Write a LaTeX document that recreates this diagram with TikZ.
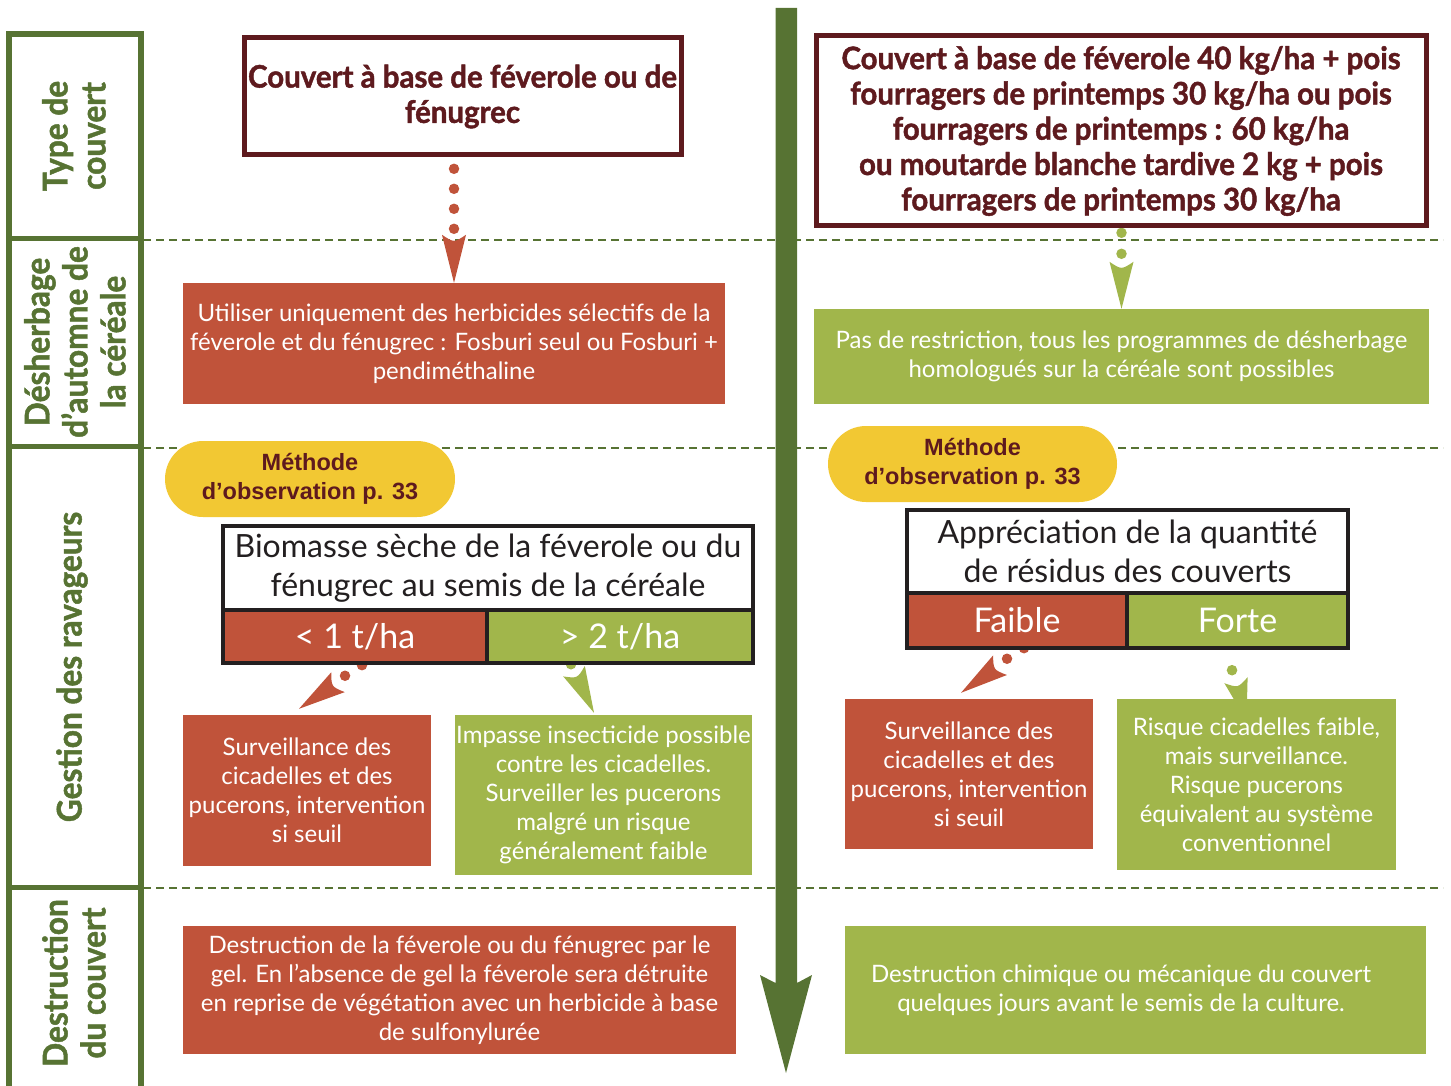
\documentclass[tikz,border=0pt]{standalone}
\usepackage{fontspec}
\usetikzlibrary{calc}
\newfontfamily\bodyf{Lato}
\newfontfamily\headf[FakeStretch=0.95, BoldFeatures={FakeBold=1.4}]{Lato}
\newfontfamily\labelf[FakeStretch=0.93, BoldFeatures={FakeBold=1.4}]{Lato}
\newfontfamily\methf{Liberation Sans}
\definecolor{redc}{HTML}{C0533A}
\definecolor{greenc}{HTML}{A1B64B}
\definecolor{darkgreenc}{HTML}{577333}
\definecolor{maroonc}{HTML}{5E1A1E}
\definecolor{yellowc}{HTML}{F2C833}
\definecolor{inkc}{HTML}{231F20}
\pgfdeclarelayer{bg}
\pgfdeclarelayer{mid}
\pgfsetlayers{bg,mid,main}

% arrowhead with a concave back: #1 colour, #2 back centre, #3 tip
\newcommand\notchhead[3]{%
  \fill[#1] ($(#2)!12pt!90:(#3)$) .. controls ($(#2)!8pt!(#3)$) .. ($(#2)!12pt!-90:(#3)$) -- (#3) -- cycle;}

\begin{document}
\begin{tikzpicture}[x=1pt,y=-1pt,
  box/.style={inner sep=0pt, align=center, text=white,
    font=\bodyf\fontsize{24}{29}\selectfont},
  redbox/.style={box, fill=redc},
  greenbox/.style={box, fill=greenc},
  titlebox/.style={draw=maroonc, line width=5pt, fill=white, inner sep=0pt,
    align=center, text=maroonc, font=\headf\bfseries\fontsize{31}{35.3}\selectfont},
  pill/.style={fill=yellowc, rounded corners=38pt, inner sep=0pt, align=center,
    text=maroonc, font=\methf\bfseries\fontsize{23.5}{29}\selectfont},
  headcell/.style={fill=white, inner sep=0pt, align=center, text=inkc,
    font=\bodyf\fontsize{32}{39}\selectfont},
  valcell/.style={inner sep=0pt, text=white, font=\bodyf\fontsize{34}{38}\selectfont},
  tableline/.style={draw=inkc, line width=4pt},
  sidelabel/.style={rotate=90, align=center, text=darkgreenc, inner sep=0pt,
    font=\labelf\bfseries\fontsize{34}{38}\selectfont},
  rowsep/.style={draw=darkgreenc, line width=2.5pt, dash pattern=on 8pt off 5pt},
  dottrail/.style={line width=10.5pt, line cap=round, dash pattern=on 0pt off #1},
]
\useasboundingbox (0,0) rectangle (1451,1086);

% ---- row labels frame
\draw[darkgreenc, line width=6pt] (9,1100) -- (9,34.5) -- (140.5,34.5) -- (140.5,1100);
\foreach \yy in {239,446,887}
  \draw[darkgreenc, line width=5pt] (9,\yy) -- (140.5,\yy);
\node[sidelabel] (labType) at (74,136) {Type de\\couvert};
\node[sidelabel] (labDesh) at (75,342) {Désherbage\\d’automne de\\la céréale};
\node[sidelabel] (labRav)  at (72,667) {Gestion des ravageurs};
\node[sidelabel] (labDest) at (74,983) {Destruction\\du couvert};

% ---- row separators
\begin{pgfonlayer}{bg}
  \foreach \yy in {240,448,888}
    \draw[rowsep] (143,\yy) -- (1443,\yy);
\end{pgfonlayer}

% ---- time axis
\fill[darkgreenc] (775.5,8) -- (797,8) -- (797,983) -- (812,975) -- (786,1073)
  -- (760,975) -- (775.5,983) -- cycle;

% ---- cover types
\node[titlebox, minimum width=437pt, minimum height=117pt] (titleL) at (462.5,96.5)
  {Couvert à base de féverole ou de\\fénugrec};
\node[titlebox, minimum width=610pt, minimum height=190pt] (titleR) at (1121,131)
  {Couvert à base de féverole 40 kg/ha + pois\\fourragers de printemps 30 kg/ha ou pois\\fourragers de printemps : 60 kg/ha\\ou moutarde blanche tardive 2 kg + pois\\fourragers de printemps 30 kg/ha};

% ---- autumn weeding
\node[redbox, minimum width=542pt, minimum height=121pt] (herbL) at (454,343.5)
  {Utiliser uniquement des herbicides sélectifs de la\\féverole et du fénugrec : Fosburi seul ou Fosburi +\\pendiméthaline};
\node[greenbox, minimum width=615pt, minimum height=95pt] (herbR) at (1121.5,356.5)
  {Pas de restriction, tous les programmes de désherbage\\homologués sur la céréale sont possibles};

% ---- pest management
\node[pill, minimum width=290pt, minimum height=76pt] (pillL) at (310,479)
  {Méthode\\d’observation p. 33};
\node[pill, minimum width=289pt, minimum height=76pt] (pillR) at (972.5,464)
  {Méthode\\d’observation p. 33};

\node[headcell, minimum width=530pt, minimum height=84pt] (bioHead) at (488,568)
  {Biomasse sèche de la féverole ou du\\fénugrec au semis de la céréale};
\node[valcell, fill=redc, minimum width=264pt, minimum height=53pt] (bioLow) at (355,636.5) {< 1 t/ha};
\node[valcell, fill=greenc, minimum width=266pt, minimum height=53pt] (bioHigh) at (620,636.5) {> 2 t/ha};
\draw[tableline] (bioHead.north west) rectangle (bioHigh.south east);
\draw[tableline] (bioLow.north west) -- (bioHigh.north east);
\draw[tableline] (bioLow.north east) -- (bioLow.south east);

\node[headcell, minimum width=441pt, minimum height=83pt] (resHead) at (1127.5,551.5)
  {Appréciation de la quantité\\de résidus des couverts};
\node[valcell, fill=redc, minimum width=220pt, minimum height=55pt] (resLow) at (1017,620.5) {Faible};
\node[valcell, fill=greenc, minimum width=221pt, minimum height=55pt] (resHigh) at (1237.5,620.5) {Forte};
\draw[tableline] (resHead.north west) rectangle (resHigh.south east);
\draw[tableline] (resLow.north west) -- (resHigh.north east);
\draw[tableline] (resLow.north east) -- (resLow.south east);

\node[redbox, minimum width=248pt, minimum height=151pt] (survL) at (307,790.5)
  {Surveillance des\\cicadelles et des\\pucerons, intervention\\si seuil};
\node[greenbox, minimum width=297pt, minimum height=160pt] (impL) at (603.5,795)
  {Impasse insecticide possible\\contre les cicadelles.\\Surveiller les pucerons\\malgré un risque\\généralement faible};
\node[redbox, minimum width=248pt, minimum height=150pt] (survR) at (969,774)
  {Surveillance des\\cicadelles et des\\pucerons, intervention\\si seuil};
\node[greenbox, minimum width=279pt, minimum height=171pt] (risqR) at (1256.5,784.5)
  {Risque cicadelles faible,\\mais surveillance.\\Risque pucerons\\équivalent au système\\conventionnel};

% ---- cover destruction
\node[redbox, minimum width=553pt, minimum height=128pt] (destL) at (459.5,990)
  {Destruction de la féverole ou du fénugrec par le\\gel. En l’absence de gel la féverole sera détruite\\en reprise de végétation avec un herbicide à base\\de sulfonylurée};
\node[greenbox, minimum width=581pt, minimum height=128pt] (destR) at (1135.5,990) {};
\node[box] (destRtext) at (1121,990)
  {Destruction chimique ou mécanique du couvert\\quelques jours avant le semis de la culture.};

% ---- dotted connectors
\begin{pgfonlayer}{mid}
  % cover type -> weeding (left)
  \draw[redc, dottrail=20pt] ($(herbL.north)+(0,-114)$) -- ($(herbL.north)+(0,-53.5)$);
  \coordinate (hLback) at ($(herbL.north)+(0,-48)$);
  \notchhead{redc}{hLback}{herbL.north}
  % cover type -> weeding (right)
  \draw[greenc, dottrail=21pt] ($(herbR.north)+(0,-76)$) -- ($(herbR.north)+(0,-54.5)$);
  \coordinate (hRback) at ($(herbR.north)+(0,-47)$);
  \notchhead{greenc}{hRback}{herbR.north}
  % low biomass -> monitoring
  \coordinate (aLback) at ($(bioLow.south)+(-17,19)$);
  \coordinate (aLtip) at ($(survL.north)+(-8,-6)$);
  \draw[redc, dottrail=20pt] ($(bioLow.south)+(7,2)$) -- ($(bioLow.south)+(-11.5,13.5)$);
  \notchhead{redc}{aLback}{aLtip}
  % high biomass -> insecticide skip
  \coordinate (bLback) at ($(bioHigh.south)+(-46,8)$);
  \coordinate (bLtip) at ($(impL.north)+(-9.5,-2)$);
  \fill[greenc] ($(bioHigh.south)+(-49,1)$) circle[radius=5.3pt];
  \notchhead{greenc}{bLback}{bLtip}
  % low residue -> monitoring
  \coordinate (aRback) at ($(resLow.south)+(-17,17)$);
  \coordinate (aRtip) at ($(survR.north)+(-8,-6)$);
  \draw[redc, dottrail=20pt] ($(resLow.south)+(7,0)$) -- ($(resLow.south)+(-11.5,11.5)$);
  \notchhead{redc}{aRback}{aRtip}
  % high residue -> low risk
  \coordinate (bRback) at ($(resHigh.south)+(-1.5,32)$);
  \coordinate (bRtip) at ($(risqR.north)+(-10,22)$);
  \fill[greenc] ($(resHigh.south)+(-5.5,22)$) circle[radius=5.3pt];
  \notchhead{greenc}{bRback}{bRtip}
\end{pgfonlayer}
\end{tikzpicture}
\end{document}
